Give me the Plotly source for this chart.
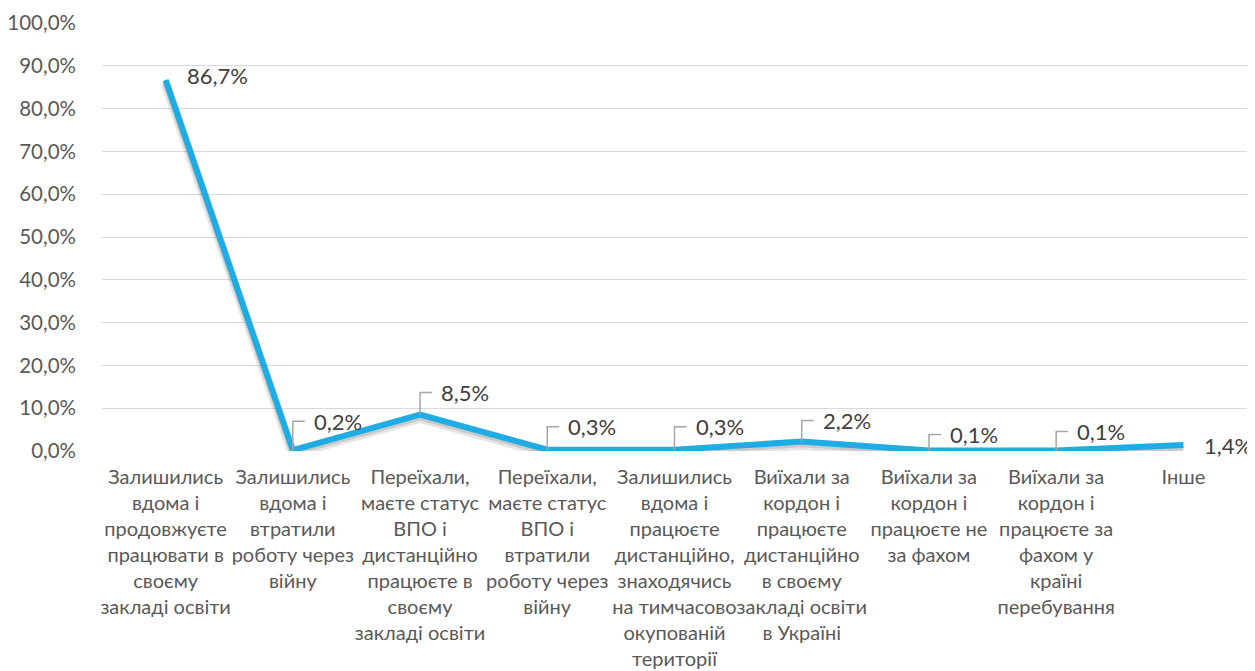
import plotly.graph_objects as go

categories = [
    "Залишились<br>вдома і<br>продовжуєте<br>працювати в<br>своєму<br>закладі освіти",
    "Залишились<br>вдома і<br>втратили<br>роботу через<br>війну",
    "Переїхали,<br>маєте статус<br>ВПО і<br>дистанційно<br>працюєте в<br>своєму<br>закладі освіти",
    "Переїхали,<br>маєте статус<br>ВПО і<br>втратили<br>роботу через<br>війну",
    "Залишились<br>вдома і<br>працюєте<br>дистанційно,<br>знаходячись<br>на тимчасово<br>окупованій<br>території",
    "Виїхали за<br>кордон і<br>працюєте<br>дистанційно<br>в своєму<br>закладі освіти<br>в Україні",
    "Виїхали за<br>кордон і<br>працюєте не<br>за фахом",
    "Виїхали за<br>кордон і<br>працюєте за<br>фахом у<br>країні<br>перебування",
    "Інше",
]
values = [86.7, 0.2, 8.5, 0.3, 0.3, 2.2, 0.1, 0.1, 1.4]
y_ticks = [0, 10, 20, 30, 40, 50, 60, 70, 80, 90, 100]
y_tick_text = [f"{v:.1f}%".replace(".", ",") for v in y_ticks]

# label styling (pixel offsets of the callouts, leader shown or not)
label_dy = [4, 29, 22, 23, 23, 21, 16, 19, 0]
label_leader = [False, True, True, True, True, True, True, True, False]

LINE = "#1FABE3"
GREY_TXT = "#595959"
FONT = "Lato, Carlito, Calibri, sans-serif"

xs = list(range(len(categories)))

fig = go.Figure()
# soft shadow under the line
fig.add_trace(go.Scatter(x=xs, y=[v - 0.8 for v in values], mode="lines",
                         line=dict(color="rgba(0,0,0,0.10)", width=10),
                         hoverinfo="skip", showlegend=False))
fig.add_trace(go.Scatter(x=xs, y=[v - 0.5 for v in values], mode="lines",
                         line=dict(color="rgba(0,0,0,0.12)", width=7),
                         hoverinfo="skip", showlegend=False))
fig.add_trace(go.Scatter(x=xs, y=values, mode="lines",
                         line=dict(color=LINE, width=6),
                         showlegend=False))

for i, v in enumerate(values):
    dy = label_dy[i]
    fig.add_annotation(x=i, y=v, xref="x", yref="y",
                       text=f"{v:.1f}%".replace(".", ","),
                       showarrow=False, xanchor="left", yanchor="middle",
                       xshift=19, yshift=dy,
                       font=dict(family=FONT, size=22, color="#404040"))
    if label_leader[i]:
        fig.add_shape(type="path", xref="x", yref="y",
                      xsizemode="pixel", ysizemode="pixel",
                      xanchor=i, yanchor=v,
                      path=f"M0,0 L0,{dy} L12,{dy}",
                      line=dict(color="#A6A6A6", width=1.5))

fig.update_xaxes(range=[-0.5, len(categories) - 0.5],
                 tickvals=xs, ticktext=categories, automargin=False,
                 tickangle=0, showgrid=False, zeroline=False,
                 showline=False, ticks="", ticklabelstandoff=12,
                 tickfont=dict(family=FONT, size=20, color=GREY_TXT))
fig.update_yaxes(range=[0, 100], tickvals=y_ticks, ticktext=y_tick_text,
                 automargin=False,
                 showgrid=True, gridcolor="#D9D9D9", gridwidth=1,
                 zeroline=False, showline=False, ticks="",
                 ticklabelstandoff=25,
                 tickfont=dict(family=FONT, size=20.5, color=GREY_TXT))

# page body adds an 8px margin, so the figure is 8px smaller on each axis
fig.update_layout(width=1247, height=663,
                  margin=dict(l=94, r=8, t=15, b=220),
                  paper_bgcolor="white", plot_bgcolor="white",
                  showlegend=False)

fig.write_html("out.html")
